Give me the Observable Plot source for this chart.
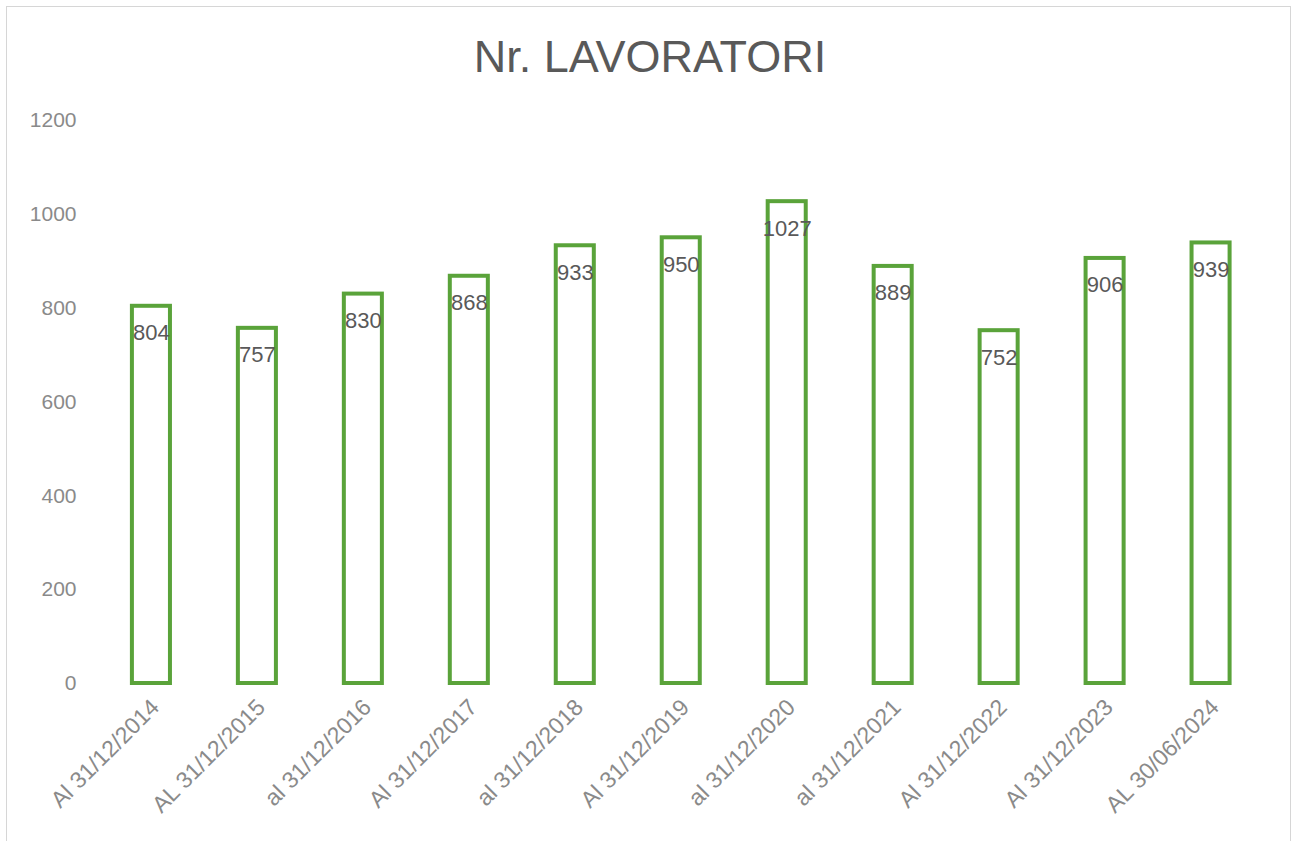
<!DOCTYPE html>
<html>
<head>
<meta charset="utf-8">
<script src="https://cdn.jsdelivr.net/npm/d3@7"></script>
<script src="https://cdn.jsdelivr.net/npm/@observablehq/plot@0.6"></script>
<style>
  html, body { margin: 0; padding: 0; background: #fff; width: 1293px; height: 841px; overflow: hidden; }
  #frame { position: absolute; left: 6px; top: 6px; width: 1285px; height: 900px; border: 1.5px solid #d6d6d6; box-sizing: border-box; }
  #title { position: absolute; left: 0; top: 35px; width: 1300px; text-align: center; font-family: "Liberation Sans", Arial, sans-serif; font-size: 45px; line-height: 44px; color: #595959; }
  #chart { position: absolute; left: 0; top: 90px; }
</style>
</head>
<body>
<div id="frame"></div>
<div id="title">Nr. LAVORATORI</div>
<div id="chart"></div>
<script>
const categories = ["Al 31/12/2014", "AL 31/12/2015", "al 31/12/2016", "Al 31/12/2017", "al 31/12/2018", "Al 31/12/2019", "al 31/12/2020", "al 31/12/2021", "Al 31/12/2022", "Al 31/12/2023", "AL 30/06/2024"];
const values = [804, 757, 830, 868, 933, 950, 1027, 889, 752, 906, 939];
const yTicks = [0, 200, 400, 600, 800, 1000, 1200];

const data = categories.map((c, i) => ({cat: c, val: values[i]}));
const font = "'Liberation Sans', Arial, sans-serif";

const chart = Plot.plot({
  width: 1293,
  height: 751,
  marginLeft: 98,
  marginRight: 29.5,
  marginTop: 30,
  marginBottom: 158,
  style: {fontFamily: font, background: "transparent", overflow: "visible"},
  x: {domain: categories, paddingInner: 0.641, paddingOuter: 0.32, round: false, label: null},
  y: {domain: [0, 1200], label: null},
  marks: [
    Plot.axisY({ticks: yTicks, tickFormat: d => String(d), tickSize: 0, tickPadding: 22, fontSize: 21, fill: "#8a8a8a", label: null}),
    Plot.axisX({tickSize: 0, tickRotate: -45, tickPadding: 20, dx: 4, fontSize: 23, fill: "#8a8a8a", label: null}),
    Plot.barY(data, {x: "cat", y: "val", fill: "white", stroke: "#5aa33a", strokeWidth: 4}),
    Plot.text(data, {x: "cat", y: "val", text: d => String(d.val), dy: 27, fontSize: 22, fill: "#595959", lineAnchor: "middle"})
  ]
});
document.getElementById("chart").appendChild(chart);
</script>
</body>
</html>
